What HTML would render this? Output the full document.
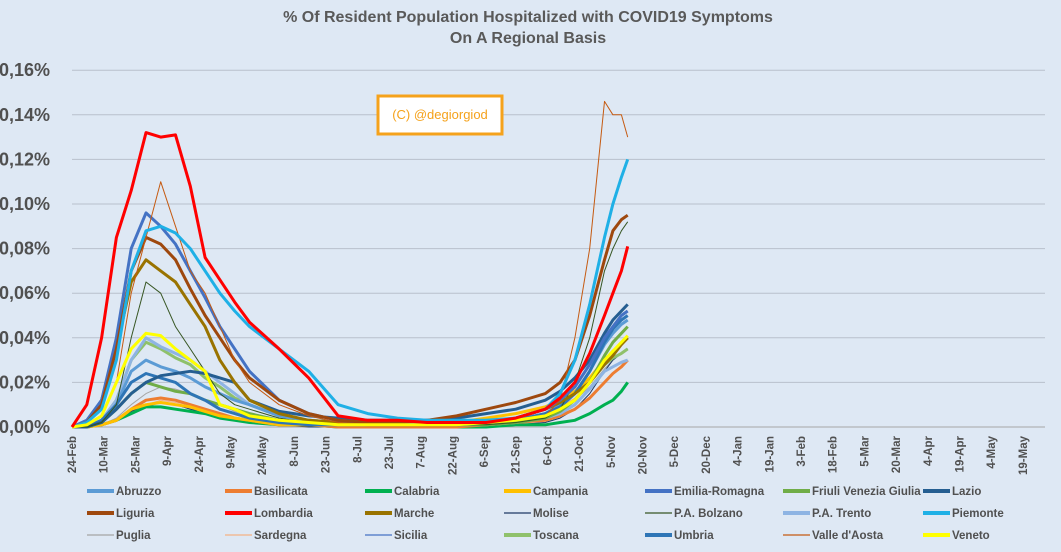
<!DOCTYPE html>
<html><head><meta charset="utf-8"><style>
body{margin:0;background:#dee8f4;}
svg{display:block;font-family:"Liberation Sans",sans-serif;}
</style></head><body>
<svg id="chart" width="1061" height="552">
<rect width="1061" height="552" fill="#dee8f4"/>
<text x="528" y="22" text-anchor="middle" font-size="16" font-weight="bold" fill="#595959">% Of Resident Population Hospitalized with COVID19 Symptoms</text>
<text x="528" y="43" text-anchor="middle" font-size="16" font-weight="bold" fill="#595959">On A Regional Basis</text>
<g id="grid"></g><g id="xt"></g><g id="series"></g><g id="legend"></g>
<g>
<rect x="378" y="96" width="124" height="38" fill="#fff" stroke="#f5a21b" stroke-width="3"/>
<text x="440" y="119" text-anchor="middle" font-size="13" fill="#f5a21b">(C) @degiorgiod</text>
</g>
</svg>
<script>
const DAYS=[0,7,14,21,28,35,42,49,56,63,70,77,84,98,112,126,140,154,168,182,196,210,224,231,238,245,252,256,260,263];
const Y_TICKS=[0,0.02,0.04,0.06,0.08,0.10,0.12,0.14,0.16];
const Y_LABELS=["0,00%","0,02%","0,04%","0,06%","0,08%","0,10%","0,12%","0,14%","0,16%"];
const X_LABELS=["24-Feb","10-Mar","25-Mar","9-Apr","24-Apr","9-May","24-May","8-Jun","23-Jun","8-Jul","23-Jul","7-Aug","22-Aug","6-Sep","21-Sep","6-Oct","21-Oct","5-Nov","20-Nov","5-Dec","20-Dec","4-Jan","19-Jan","3-Feb","18-Feb","5-Mar","20-Mar","4-Apr","19-Apr","4-May","19-May"];
const Abruzzo=[0,0,.003,.01,.025,.03,.027,.025,.022,.018,.015,.012,.01,.005,.003,.002,.001,.001,.001,.001,.002,.003,.006,.01,.015,.025,.037,.042,.046,.048];
const Basilicata=[0,0,.001,.003,.008,.012,.013,.012,.01,.008,.006,.004,.003,.001,.001,0,0,0,0,0,.001,.002,.003,.005,.008,.013,.02,.024,.027,.03];
const Calabria=[0,0,.001,.003,.006,.009,.009,.008,.007,.006,.004,.003,.002,.001,.001,0,0,0,0,0,0,.001,.001,.002,.003,.006,.01,.012,.016,.02];
const Campania=[0,0,.001,.003,.008,.01,.011,.01,.009,.007,.005,.004,.003,.001,.001,.001,.001,.001,.001,.002,.004,.006,.009,.012,.016,.022,.03,.034,.037,.04];
const EmiliaRomagna=[0,.003,.012,.04,.08,.096,.09,.082,.07,.058,.045,.035,.025,.012,.006,.003,.002,.002,.002,.002,.002,.004,.008,.012,.018,.028,.04,.045,.05,.052];
const Friuli=[0,0,.002,.008,.015,.02,.018,.016,.015,.012,.01,.008,.006,.003,.002,.001,.001,.001,.001,.001,.001,.002,.004,.007,.012,.02,.032,.038,.042,.045];
const Lazio=[0,0,.002,.008,.015,.02,.023,.024,.025,.024,.022,.02,.012,.007,.005,.004,.003,.003,.003,.004,.006,.008,.012,.016,.022,.03,.042,.048,.052,.055];
const Liguria=[0,.002,.01,.035,.07,.085,.082,.075,.062,.05,.04,.03,.022,.012,.006,.003,.002,.002,.003,.005,.008,.011,.015,.02,.03,.05,.075,.088,.093,.095];
const Lombardia=[0,.01,.04,.085,.106,.132,.130,.131,.108,.076,.066,.056,.047,.035,.022,.005,.003,.003,.002,.002,.002,.004,.008,.013,.02,.033,.05,.06,.07,.081];
const Marche=[0,.002,.012,.035,.065,.075,.07,.065,.055,.045,.03,.02,.012,.006,.003,.002,.001,.001,.001,.001,.002,.004,.008,.011,.015,.02,.028,.032,.037,.04];
const Molise=[0,0,.001,.003,.007,.01,.011,.01,.008,.006,.004,.003,.002,.001,0,0,0,0,0,0,0,.001,.002,.004,.008,.015,.025,.03,.033,.035];
const Bolzano=[0,0,.002,.01,.04,.065,.06,.045,.035,.025,.015,.01,.008,.004,.002,.001,.001,.001,.001,.001,.001,.002,.004,.008,.02,.04,.07,.08,.088,.092];
const Trento=[0,0,.003,.012,.03,.04,.036,.033,.03,.025,.02,.015,.01,.005,.003,.002,.001,.001,.001,.001,.001,.002,.004,.006,.01,.017,.025,.027,.029,.03];
const Piemonte=[0,.002,.008,.03,.07,.088,.09,.087,.08,.07,.06,.052,.045,.035,.025,.01,.006,.004,.003,.003,.003,.004,.008,.015,.03,.055,.085,.1,.112,.12];
const Puglia=[0,0,.001,.004,.01,.015,.018,.017,.015,.012,.01,.007,.005,.003,.002,.001,.001,.001,.001,.001,.002,.003,.005,.008,.012,.018,.026,.03,.033,.035];
const Sardegna=[0,0,.001,.003,.007,.01,.012,.011,.01,.008,.006,.004,.003,.001,0,0,0,0,0,.001,.002,.004,.006,.009,.013,.02,.028,.031,.033,.035];
const Sicilia=[0,0,.001,.003,.006,.009,.011,.01,.008,.007,.005,.004,.003,.001,.001,0,0,0,0,0,.001,.002,.004,.007,.012,.02,.028,.031,.033,.035];
const Toscana=[0,0,.003,.012,.03,.038,.035,.031,.028,.022,.018,.013,.01,.005,.003,.002,.001,.001,.001,.001,.002,.003,.005,.008,.012,.02,.028,.031,.033,.035];
const Umbria=[0,0,.003,.01,.02,.024,.022,.02,.015,.012,.008,.006,.004,.002,.001,.001,.001,.001,.001,.001,.002,.003,.006,.009,.015,.025,.038,.044,.048,.05];
const ValleAosta=[0,.001,.005,.02,.06,.085,.11,.09,.07,.06,.045,.03,.02,.01,.005,.002,.001,.001,.001,.001,.002,.003,.005,.012,.04,.08,.146,.14,.14,.13];
const Veneto=[0,.001,.005,.02,.035,.042,.041,.035,.03,.025,.01,.008,.005,.003,.002,.001,.001,.001,.001,.001,.002,.003,.005,.008,.012,.02,.03,.034,.038,.041];
const SERIES_NAMES=["Abruzzo","Basilicata","Calabria","Campania","Emilia-Romagna","Friuli Venezia Giulia","Lazio","Liguria","Lombardia","Marche","Molise","P.A. Bolzano","P.A. Trento","Piemonte","Puglia","Sardegna","Sicilia","Toscana","Umbria","Valle d'Aosta","Veneto"];
const SERIES_VALUES=[Abruzzo,Basilicata,Calabria,Campania,EmiliaRomagna,Friuli,Lazio,Liguria,Lombardia,Marche,Molise,Bolzano,Trento,Piemonte,Puglia,Sardegna,Sicilia,Toscana,Umbria,ValleAosta,Veneto];
const COLORS=["#5b9bd5","#ed7d31","#00b050","#ffc000","#4472c4","#70ad47","#255e91","#9e480e","#ff0000","#997300","#1f3864","#375623","#8eb4e3","#1fb0e6","#a5a5a5","#f4b183","#4472c4","#8fc16b","#2e75b6","#c55a11","#ffff00"];
const WIDTHS=[3,3,3,3,3,3,3,3,3,3,1,1,3,3,1,1,1,3,3,1,3];

const NS="http://www.w3.org/2000/svg";
const X0=72,PXDAY=2.113,Y0=427,PXUNIT=44.6/0.02;
function xs(d){return X0+d*PXDAY;}
function ys(v){return Y0-v*PXUNIT;}
function mk(t,a,p){const e=document.createElementNS(NS,t);for(const k in a)e.setAttribute(k,a[k]);p.appendChild(e);return e;}
const grid=document.getElementById('grid'),xt=document.getElementById('xt'),ser=document.getElementById('series'),leg=document.getElementById('legend');
Y_TICKS.forEach((v,i)=>{
 const l=mk('line',{x1:X0,x2:1045,y1:ys(v),y2:ys(v),stroke:i==0?'#a6a6a6':'#b8c0cc','stroke-width':1},grid);
 
 
 const t=mk('text',{x:50,y:ys(v)+6,'text-anchor':'end','font-size':18,'font-weight':'bold',fill:'#505050'},grid);
 t.textContent=Y_LABELS[i];
 
 
});
X_LABELS.forEach((s,i)=>{
 const x=xs(i*15);
 const t=mk('text',{x:0,y:0,'text-anchor':'end','font-size':11.5,'font-weight':'bold',fill:'#505050',transform:`translate(${x+4},436) rotate(-90)`},xt);
 t.textContent=s;
 
 
});
const order=[14,15,16,10,2,1,3,17,12,0,5,18,6,11,9,4,7,19,13,20,8];
order.forEach(i=>{
 const pts=DAYS.map((d,j)=>xs(d).toFixed(1)+','+ys(SERIES_VALUES[i][j]).toFixed(1)).join(' ');
 const p=mk('polyline',{points:pts,fill:'none',stroke:COLORS[i],'stroke-width':WIDTHS[i],'stroke-linejoin':'round'},ser);
 
 
});
const colX=[87,225,365,504,645,783,923],rowY=[491,513,535];
SERIES_NAMES.forEach((n,i)=>{
 const cx=colX[i%7],ry=rowY[Math.floor(i/7)];
 const g=mk('g',{},leg);
 
 
 mk('line',{x1:cx,x2:cx+27,y1:ry,y2:ry,stroke:COLORS[i],'stroke-width':WIDTHS[i]==1?1.2:4},g);
 const t=mk('text',{x:cx+29,y:ry+4,'font-size':11.5,'font-weight':'bold',fill:'#505050'},g);
 t.textContent=n;
});
</script>
</body></html>
